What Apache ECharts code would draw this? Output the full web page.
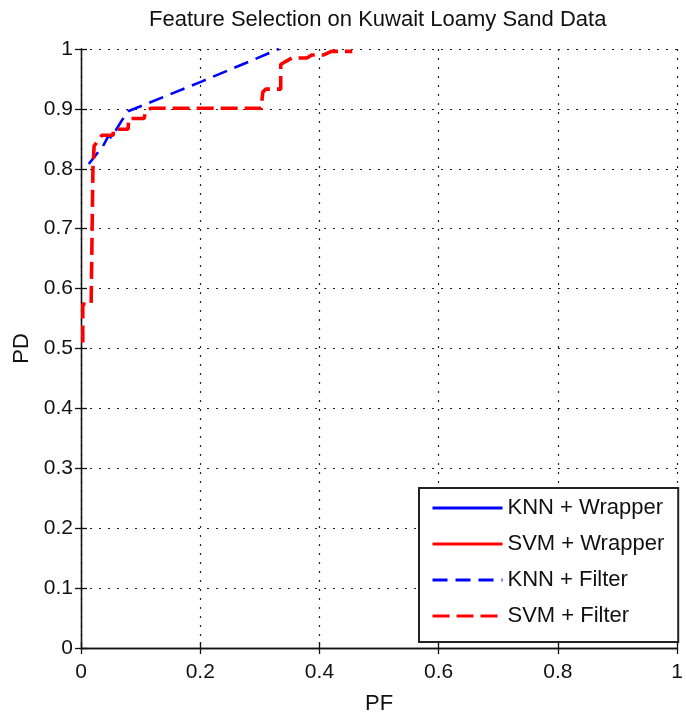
<!DOCTYPE html>
<html>
<head>
<meta charset="utf-8">
<script src="https://cdn.jsdelivr.net/npm/echarts@6/dist/echarts.min.js"></script>
<style>
html,body{margin:0;padding:0;background:#fff;}
#chart{width:686px;height:720px;}
</style>
</head>
<body>
<div id="chart"></div>
<script>
// ---- data ----
const titleText = 'Feature Selection on Kuwait Loamy Sand Data';
const xName = 'PF';
const yName = 'PD';
const xTickValues = [0, 0.2, 0.4, 0.6, 0.8, 1];
const xTickLabels = ['0', '0.2', '0.4', '0.6', '0.8', '1'];
const yTickValues = [0, 0.1, 0.2, 0.3, 0.4, 0.5, 0.6, 0.7, 0.8, 0.9, 1];
const yTickLabels = ['0', '0.1', '0.2', '0.3', '0.4', '0.5', '0.6', '0.7', '0.8', '0.9', '1'];
const seriesNames = ['KNN + Wrapper', 'SVM + Wrapper', 'KNN + Filter', 'SVM + Filter'];

// wrapper curves are not visible in the picture
const knnWrapper = [];
const svmWrapper = [];
// [PF, PD]
const knnFilter = [
  [0.013, 0.808], [0.037, 0.838], [0.046, 0.855], [0.051, 0.852],
  [0.068, 0.880], [0.079, 0.896], [0.203, 0.946], [0.332, 1.0]
];
const svmFilter = [
  [0.003, 0.51], [0.003, 0.574], [0.017, 0.574], [0.020, 0.80], [0.022, 0.838],
  [0.035, 0.856], [0.054, 0.856], [0.054, 0.866], [0.079, 0.866], [0.080, 0.884],
  [0.106, 0.884], [0.108, 0.896], [0.117, 0.901], [0.302, 0.901], [0.305, 0.928],
  [0.31, 0.933], [0.335, 0.933], [0.335, 0.974], [0.343, 0.979], [0.354, 0.985],
  [0.379, 0.985], [0.387, 0.990], [0.407, 0.990], [0.42, 0.996], [0.455, 0.996]
];

// ---- chart ----
const FONT = 'Liberation Sans, Arial, Helvetica, sans-serif';
const chart = echarts.init(document.getElementById('chart'), null, {renderer: 'canvas'});
function lab(values, labels) {
  return function (v) {
    for (let i = 0; i < values.length; i++) {
      if (Math.abs(values[i] - v) < 1e-9) return labels[i];
    }
    return '';
  };
}
const axisLineStyle = {color: '#111', width: 1.3};
const gridDots = {show: true, lineStyle: {color: '#222', width: 1.2, type: [2, 7]}};
const option = {
  animation: false,
  backgroundColor: '#fff',
  title: {
    text: titleText,
    left: 149, top: 9, padding: 0,
    textStyle: {fontFamily: FONT, fontSize: 22, fontWeight: 'normal', color: '#111'}
  },
  grid: {left: 81, right: 1, top: 49, bottom: 67, containLabel: false},
  xAxis: [{
    type: 'value', min: 0, max: 1, interval: 0.2,
    name: xName, nameLocation: 'middle', nameGap: 45,
    nameTextStyle: {fontFamily: FONT, fontSize: 22, color: '#111'},
    axisLine: {show: true, lineStyle: axisLineStyle},
    axisTick: {show: true, inside: true, length: 6, lineStyle: axisLineStyle},
    axisLabel: {fontFamily: FONT, fontSize: 21, color: '#111', margin: 14, formatter: lab(xTickValues, xTickLabels)},
    splitLine: gridDots
  }, {
    type: 'value', min: 0, max: 1, interval: 0.2, position: 'top',
    axisLine: {show: true, lineStyle: axisLineStyle},
    axisTick: {show: true, inside: true, length: 6, lineStyle: axisLineStyle},
    axisLabel: {show: false}, splitLine: {show: false}
  }],
  yAxis: [{
    type: 'value', min: 0, max: 1, interval: 0.1,
    name: yName, nameLocation: 'middle', nameGap: 48,
    nameTextStyle: {fontFamily: FONT, fontSize: 22, color: '#111'},
    axisLine: {show: true, lineStyle: axisLineStyle},
    axisTick: {show: true, inside: true, length: 6, lineStyle: axisLineStyle},
    axisLabel: {fontFamily: FONT, fontSize: 21, color: '#111', margin: 8, formatter: lab(yTickValues, yTickLabels)},
    splitLine: gridDots
  }, {
    type: 'value', min: 0, max: 1, interval: 0.1, position: 'right',
    axisLine: {show: true, lineStyle: axisLineStyle},
    axisTick: {show: true, inside: true, length: 6, lineStyle: axisLineStyle},
    axisLabel: {show: false}, splitLine: {show: false}
  }],
  legend: {
    orient: 'vertical',
    left: 419, top: 488,
    padding: [9, 14, 15, 12],
    itemWidth: 70, itemHeight: 14, itemGap: 14,
    backgroundColor: '#fff',
    borderColor: '#222', borderWidth: 2,
    textStyle: {fontFamily: FONT, fontSize: 22, color: '#111', width: 158},
    itemStyle: {opacity: 0, color: 'rgba(0,0,0,0)', borderWidth: 0},
    lineStyle: {width: 3},
    data: seriesNames
  },
  series: [
    {name: seriesNames[0], type: 'line', data: knnWrapper, symbol: 'none', color: '#0000ff',
     lineStyle: {color: '#0000ff', width: 3, type: 'solid'}},
    {name: seriesNames[1], type: 'line', data: svmWrapper, symbol: 'none', color: '#ff0000',
     lineStyle: {color: '#ff0000', width: 3, type: 'solid'}},
    {name: seriesNames[2], type: 'line', data: knnFilter, symbol: 'none', color: '#0000ff',
     lineStyle: {color: '#0000ff', width: 2.6, type: [15, 8]}},
    {name: seriesNames[3], type: 'line', data: svmFilter, symbol: 'none', color: '#ff0000',
     lineStyle: {color: '#ff0000', width: 3.6, type: [17, 7]}}
  ]
};
chart.setOption(option);
</script>
</body>
</html>
